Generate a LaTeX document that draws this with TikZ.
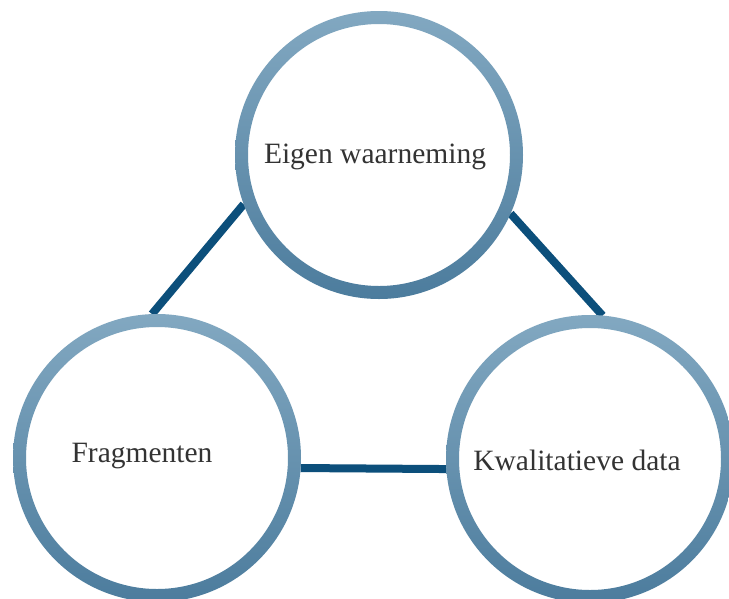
\documentclass[tikz,border=0pt]{standalone}
\usepackage{fontspec}
\setmainfont{Liberation Serif}
\begin{document}
\definecolor{ringtop}{HTML}{82A8C1}
\definecolor{ringbot}{HTML}{4C7C9D}
\definecolor{linkblue}{HTML}{0C4F7B}
\definecolor{labelgray}{HTML}{333333}
\begin{tikzpicture}[x=1pt,y=-1pt,
  hub/.style={circle,draw=none,inner sep=0pt,outer sep=0pt,minimum size=288pt},
  label/.style={font=\fontsize{29.5}{34}\selectfont,text=labelgray},
  link/.style={draw=linkblue,line width=8pt}]
\useasboundingbox (0,0) rectangle (729,598);
\fill[white] (0,0) rectangle (729,598);

% three hubs
\node[hub] (top)   at (379,155) {};
\node[hub] (left)  at (157,458) {};
\node[hub] (right) at (590,459) {};

% connectors between the hubs
\draw[link] (left.92)  -- (top.200);
\draw[link] (top.-24)  -- (right.85);
\draw[link] (left.-4)  -- (right.184);

% shaded rings
\foreach \c in {top,left,right}{
  \shade[top color=ringtop,bottom color=ringbot,even odd rule]
    (\c) circle[radius=144pt] (\c) circle[radius=131pt];
}

% labels
\node[label] (ltop)   at (375,157) {Eigen waarneming};
\node[label] (lleft)  at (142,456) {Fragmenten};
\node[label] (lright) at (577,460) {Kwalitatieve data};
\end{tikzpicture}
\end{document}
